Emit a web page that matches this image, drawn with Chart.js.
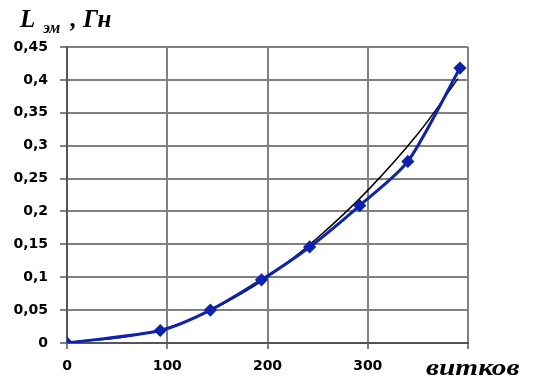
<!DOCTYPE html>
<html>
<head>
<meta charset="utf-8">
<script src="https://cdn.jsdelivr.net/npm/chart.js@4"></script>
<style>
  html, body { margin: 0; padding: 0; background: #fff; }
  #wrap { position: relative; width: 534px; height: 376px; overflow: hidden; }
  #chart { position: absolute; left: 0; top: 0; }
  .lbl { position: absolute; font-family: "Liberation Serif", serif; font-weight: bold; font-style: italic; color: #000; white-space: nowrap; line-height: 1; }
</style>
</head>
<body>
<div id="wrap">
  <canvas id="chart" width="534" height="376"></canvas>
  <div class="lbl" style="left:20px; top:6px; font-size:25px;">L<span style="font-size:16px; margin-left:8px; position:relative; top:6px;">эм</span><span style="margin-left:4px;"> , Гн</span></div>
  <div class="lbl" id="xname" style="left:426px; top:355px; font-size:24px; transform-origin:0 0; transform:scaleX(1.22);">витков</div>
</div>
<script>
// measured points
const turns = [0, 93, 143, 194, 242, 292, 340, 392];
const inductance = [0, 0.019, 0.05, 0.096, 0.146, 0.209, 0.276, 0.418];

// black trend curve
const trendX = [0, 50, 100, 150, 200, 250, 300, 350, 390];
const trendY = [0.001, 0.008, 0.023, 0.055, 0.1, 0.16, 0.232, 0.318, 0.402];

const xTicks = ['0', '100', '200', '300', ''];
const yTicks = ['0', '0,05', '0,1', '0,15', '0,2', '0,25', '0,3', '0,35', '0,4', '0,45'];

const tickFont = { family: "'DejaVu Sans', sans-serif", weight: 'bold', size: 14 };

const ctx = document.getElementById('chart').getContext('2d');
new Chart(ctx, {
  type: 'scatter',
  data: {
    datasets: [
      {
        label: 'trend',
        data: trendX.map((x, i) => ({ x: x, y: trendY[i] })),
        showLine: true,
        borderColor: '#000',
        borderWidth: 1.5,
        pointRadius: 0,
        tension: 0.4,
        order: 2
      },
      {
        label: 'L',
        data: turns.map((x, i) => ({ x: x, y: inductance[i] })),
        showLine: true,
        borderColor: '#0d22b0',
        backgroundColor: '#0d22b0',
        borderWidth: 3,
        pointStyle: 'rectRot',
        pointRadius: 4.5,
        tension: 0.25,
        order: 1
      }
    ]
  },
  options: {
    responsive: false,
    animation: false,
    layout: { padding: { top: 47, right: 66, left: 0, bottom: 0 } },
    plugins: { legend: { display: false }, tooltip: { enabled: false } },
    scales: {
      x: {
        type: 'linear',
        min: 0,
        max: 400,
        afterFit: (s) => { s.height = 33; },
        ticks: {
          stepSize: 100,
          color: '#000',
          font: tickFont,
          padding: 9,
          maxRotation: 0,
          callback: (v) => xTicks[v / 100]
        },
        grid: { color: '#808080', lineWidth: 2, tickLength: 6 },
        border: { color: '#555', width: 2 }
      },
      y: {
        min: 0,
        max: 0.45,
        afterFit: (s) => { s.width = 67; },
        ticks: {
          stepSize: 0.05,
          color: '#000',
          font: tickFont,
          padding: 12,
          callback: (v) => yTicks[Math.round(v / 0.05)]
        },
        grid: { color: '#808080', lineWidth: 2, tickLength: 7 },
        border: { color: '#555', width: 2 }
      }
    }
  }
});
</script>
</body>
</html>
